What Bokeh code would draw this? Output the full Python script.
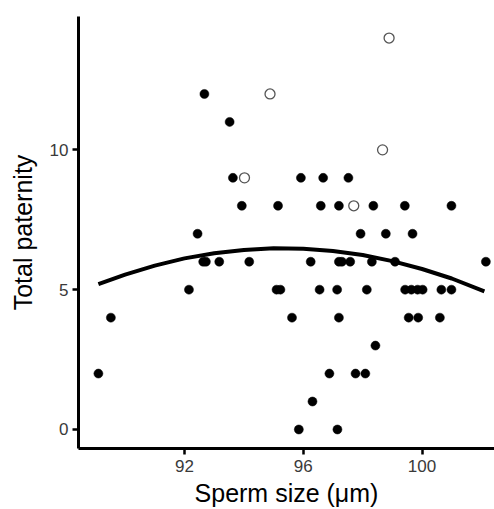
from bokeh.plotting import figure
from bokeh.models import FixedTicker, Range1d
from bokeh.embed import file_html
from bokeh.resources import INLINE

# Filled points: sperm size (µm) and total paternity
filled_x = [95.85, 97.15,
            96.31,
            89.10, 96.88, 97.76, 98.09,
            98.43,
            89.52, 95.62, 97.20, 99.55, 99.87, 100.60,
            92.15, 95.10, 95.23, 96.55, 97.14, 98.14, 99.43, 99.64, 99.85, 100.02, 100.65, 100.99,
            92.63, 92.72, 93.17, 94.18, 96.25, 97.20, 97.30, 97.58, 98.31, 99.09, 102.15,
            92.44, 97.93, 98.78, 99.68,
            93.93, 95.15, 96.59, 97.20, 98.36, 99.42, 100.99,
            93.63, 95.92, 96.67, 97.52,
            93.52,
            92.67]
filled_y = [0, 0,
            1,
            2, 2, 2, 2,
            3,
            4, 4, 4, 4, 4, 4,
            5, 5, 5, 5, 5, 5, 5, 5, 5, 5, 5, 5,
            6, 6, 6, 6, 6, 6, 6, 6, 6, 6, 6,
            7, 7, 7, 7,
            8, 8, 8, 8, 8, 8, 8,
            9, 9, 9, 9,
            11,
            12]

# Open points
open_x = [94.02, 94.88, 97.70, 98.67, 98.89]
open_y = [9, 12, 8, 10, 14]

# Fitted curve
curve_x = [89.1, 90, 91, 92, 93, 94, 95, 96, 97, 98, 99, 100, 101, 102.1]
curve_y = [5.20, 5.54, 5.86, 6.12, 6.30, 6.42, 6.48, 6.46, 6.38, 6.24, 6.02, 5.74, 5.40, 4.94]

x_ticks = [92, 96, 100]
y_ticks = [0, 5, 10]

FONT = "Liberation Sans"

p = figure(width=494, height=509, output_backend="svg", toolbar_location=None,
           x_range=Range1d(88.43, 102.44), y_range=Range1d(-0.68, 14.77),
           min_border_left=78, min_border_right=0, min_border_top=16, min_border_bottom=60)
p.outline_line_color = None
p.xgrid.visible = False
p.ygrid.visible = False
p.background_fill_color = "white"

p.line(curve_x, curve_y, line_color="black", line_width=4)
p.scatter(filled_x, filled_y, size=9, fill_color="black", line_color="black", line_width=0.5)
p.scatter(open_x, open_y, size=10, fill_color="white", line_color="#555555", line_width=1.3)

for ax in (p.xaxis, p.yaxis):
    ax.axis_line_width = 3
    ax.axis_line_color = "black"
    ax.major_tick_line_width = 2.5
    ax.major_tick_line_color = "black"
    ax.major_tick_out = 6
    ax.major_tick_in = 0
    ax.minor_tick_line_color = None
    ax.major_label_text_font = FONT
    ax.major_label_text_font_size = "17px"
    ax.major_label_text_color = "#3a3a3a"
    ax.axis_label_text_font = FONT
    ax.axis_label_text_font_size = "25px"
    ax.axis_label_text_font_style = "normal"
    ax.axis_label_text_color = "black"

p.xaxis.ticker = FixedTicker(ticks=x_ticks)
p.yaxis.ticker = FixedTicker(ticks=y_ticks)
p.xaxis.axis_label = "Sperm size (\u03bcm)"
p.yaxis.axis_label = "Total paternity"
p.xaxis.major_label_standoff = 5
p.xaxis.axis_label_standoff = 4
p.yaxis.major_label_standoff = 4
p.yaxis.axis_label_standoff = 10

open("out.html", "w").write(file_html(p, INLINE))
